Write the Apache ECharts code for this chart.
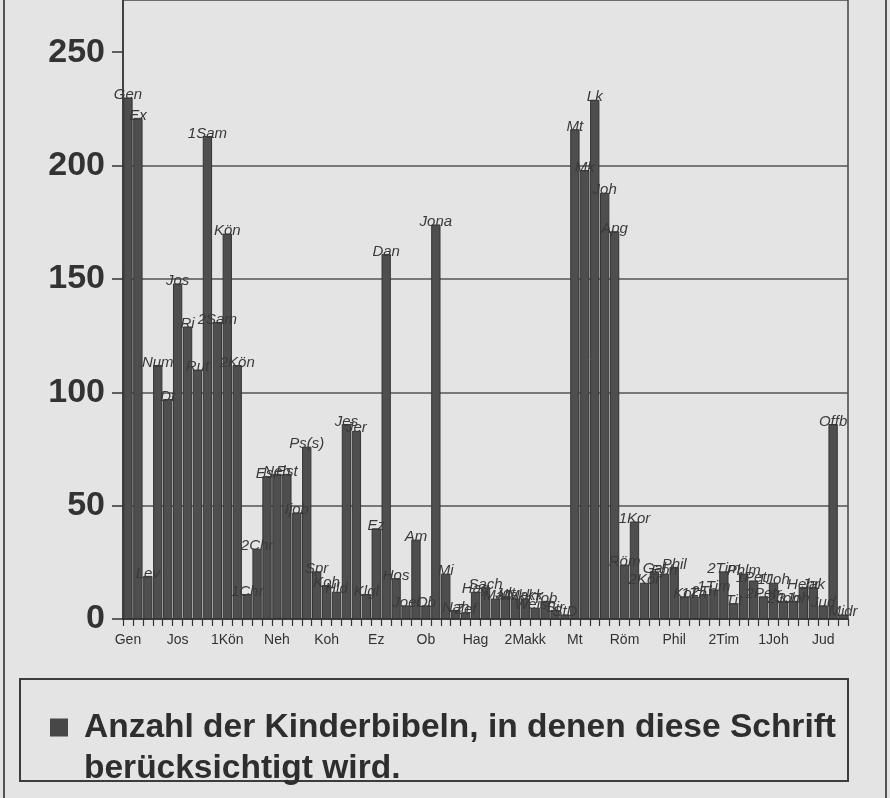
<!DOCTYPE html>
<html>
<head>
<meta charset="utf-8">
<script src="https://cdn.jsdelivr.net/npm/echarts@6/dist/echarts.min.js"></script>
<style>
html,body{margin:0;padding:0;background:#e4e4e4;}
#chart{width:890px;height:798px;}
</style>
</head>
<body>
<div id="chart"></div>
<script>
// Books (x categories)
var categories = ['Gen','Ex','Lev','Num','Dtn','Jos','Ri','Rut','1Sam','2Sam',
  '1Kön','2Kön','1Chr','2Chr','Esr','Neh','Est','Ijob','Ps','Spr',
  'Koh','Hld','Jes','Jer','Klgl','Ez','Dan','Hos','Joel','Am',
  'Ob','Jona','Mi','Nah','Zef','Hag','Sach','Mal','Jdt','1Makk',
  '2Makk','Weish','Tob','Sir','StD','Mt','Mk','Lk','Joh','Apg',
  'Röm','1Kor','2Kor','Gal','Eph','Phil','Kol','1Thess','2Thess','1Tim',
  '2Tim','Tit','Phlm','1Petr','2Petr','1Joh','2Joh','3Joh','Hebr','Jak',
  'Jud','Offb','Midr'];
// Labels written on top of the bars
var barLabels = ['Gen','Ex','Lev','Num','Dt','Jos','Ri','Rut','1Sam','2Sam',
  'Kön','2Kön','1Chr','2Chr','Esr','Neh','Est','Ijob','Ps(s)','Spr',
  'Koh','Hld','Jes','Jer','Klgl','Ez','Dan','Hos','Joel','Am',
  'Ob','Jona','Mi','Nah','Zef','Hag','Sach','Mal','Jdt','Makk',
  'Makk','Weish','Tob','Sir','StD','Mt','Mk','Lk','Joh','Apg',
  'Röm','1Kor','2Kor','Gal','Eph','Phil','Kol','1Th','2Th','1Tim',
  '2Tim','Tit','Phlm','1Petr','2Petr','1Joh','2Joh','3Joh','Hebr','Jak',
  'Jud','Offb','Midr'];
// Number of children's bibles per book
var counts = [230,221,19,112,97,148,129,110,213,131,
  170,112,11,31,63,64,64,47,76,21,
  15,12,86,83,11,40,161,18,6,35,
  6,174,20,4,3,12,14,9,10,9,
  9,5,8,4,2,216,198,229,188,171,
  24,43,16,21,20,23,10,10,11,13,
  21,7,20,17,10,16,8,8,14,14,
  6,86,2];
var yTicks = [0,50,100,150,200,250];
var seriesName = 'Anzahl der Kinderbibeln, in denen diese Schrift\nberücksichtigt wird.';

var chart = echarts.init(document.getElementById('chart'), null, {renderer:'canvas'});
var FONT = "'Liberation Sans', Arial, Helvetica, sans-serif";
chart.setOption({
  backgroundColor: '#e4e4e4',
  animation: false,
  grid: {left: 123, right: 42, top: 0, bottom: 179, show: true,
         borderColor: '#444', borderWidth: 1.5, backgroundColor: 'transparent'},
  xAxis: {
    type: 'category', data: categories, boundaryGap: true,
    axisLine: {lineStyle: {color: '#333', width: 1.5}},
    axisTick: {show: true, interval: 0, length: 7, lineStyle: {color: '#333', width: 1.2}},
    axisLabel: {interval: 4, fontSize: 14, color: '#333', margin: 14, fontFamily: FONT},
    splitLine: {show: false}
  },
  yAxis: {
    type: 'value', min: 0, max: 273, interval: 50,
    axisLine: {show: true, lineStyle: {color: '#333', width: 1.5}},
    axisTick: {show: true, length: 11, lineStyle: {color: '#333', width: 1.5}},
    axisLabel: {fontSize: 34, fontWeight: 'bold', color: '#333', margin: 18,
                fontFamily: FONT, showMaxLabel: false,
                formatter: function(v){ return yTicks.indexOf(v) >= 0 ? String(v) : ''; }},
    splitLine: {show: true, lineStyle: {color: ['#555','#555','#555','#555','#555','rgba(0,0,0,0)','rgba(0,0,0,0)'], width: 1.5}}
  },
  legend: {
    show: true, left: 50, top: 707, padding: 0, orient: 'vertical',
    itemWidth: 29, itemHeight: 59,
    icon: 'path://M0,0h18v18h-18z M28.99,58.99h0.01v0.01h-0.01z',
    itemStyle: {borderWidth: 0, color: '#474747'},
    textStyle: {fontSize: 33.5, fontWeight: 'bold', color: '#2e2e2e', lineHeight: 41, fontFamily: FONT},
    selectedMode: false,
    data: [seriesName]
  },
  graphic: [
    {type: 'rect', shape: {x: 20, y: 679, width: 828, height: 102},
     style: {fill: 'transparent', stroke: '#3c3c3c', lineWidth: 2}, z: -1},
    {type: 'line', shape: {x1: 4, y1: 0, x2: 4, y2: 798}, style: {stroke: '#555', lineWidth: 2}},
    {type: 'line', shape: {x1: 886, y1: 0, x2: 886, y2: 798}, style: {stroke: '#555', lineWidth: 2}}
  ],
  series: [{
    name: seriesName,
    type: 'bar',
    data: counts,
    barCategoryGap: '6%',
    itemStyle: {color: '#4e4e4e', borderColor: '#353535', borderWidth: 1},
    label: {
      show: true, position: 'top', distance: 0, offset: [0, 5],
      fontSize: 15, fontStyle: 'italic', color: '#3a3a3a', fontFamily: FONT,
      formatter: function(p){ return barLabels[p.dataIndex]; }
    }
  }]
});
</script>
</body>
</html>
